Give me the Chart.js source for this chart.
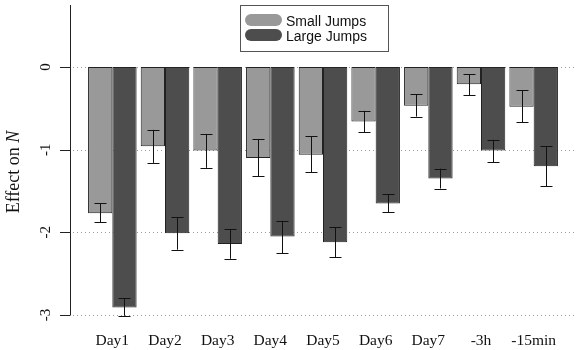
<!DOCTYPE html>
<html>
<head>
<meta charset="utf-8">
<script src="https://cdn.jsdelivr.net/npm/chart.js@4"></script>
<style>
  html, body { margin: 0; padding: 0; background: #ffffff; }
  #wrap { width: 580px; height: 350px; }
</style>
</head>
<body>
<div id="wrap"><canvas id="c" width="580" height="350"></canvas></div>
<script>
// ---- data ----
const categories = ['Day1', 'Day2', 'Day3', 'Day4', 'Day5', 'Day6', 'Day7', '-3h', '-15min'];
const smallJumps = [-1.77, -0.96, -1.01, -1.10, -1.06, -0.66, -0.47, -0.21, -0.48];
const smallLower = [-1.88, -1.16, -1.22, -1.32, -1.27, -0.79, -0.60, -0.34, -0.67];
const smallUpper = [-1.65, -0.76, -0.81, -0.87, -0.84, -0.53, -0.33, -0.09, -0.28];
const largeJumps = [-2.91, -2.01, -2.14, -2.05, -2.12, -1.65, -1.35, -1.01, -1.20];
const largeLower = [-3.01, -2.21, -2.32, -2.25, -2.30, -1.76, -1.47, -1.15, -1.44];
const largeUpper = [-2.80, -1.82, -1.96, -1.86, -1.94, -1.54, -1.23, -0.88, -0.96];
const yTicks = [0, -1, -2, -3];
const seriesNames = ['Small Jumps', 'Large Jumps'];
const yTitle = 'Effect on ';
const yTitleItalic = 'N';

const SERIF = '"Liberation Serif", "DejaVu Serif", serif';
const SANS = '"Liberation Sans", Arial, sans-serif';
const COL_SMALL = '#999999';
const COL_LARGE = '#4d4d4d';

const errorBarPlugin = {
  id: 'errorBars',
  afterDatasetsDraw(chart) {
    const ctx = chart.ctx;
    const y = chart.scales.y;
    ctx.save();
    ctx.strokeStyle = '#111';
    ctx.lineWidth = 1;
    chart.data.datasets.forEach((ds, di) => {
      const meta = chart.getDatasetMeta(di);
      meta.data.forEach((bar, i) => {
        const x = Math.round(bar.x) + 0.5;
        const y1 = y.getPixelForValue(ds.errLow[i]);
        const y2 = y.getPixelForValue(ds.errHigh[i]);
        ctx.beginPath();
        ctx.moveTo(x, y1); ctx.lineTo(x, y2);
        ctx.moveTo(x - 6, Math.round(y1) + 0.5); ctx.lineTo(x + 6, Math.round(y1) + 0.5);
        ctx.moveTo(x - 6, Math.round(y2) + 0.5); ctx.lineTo(x + 6, Math.round(y2) + 0.5);
        ctx.stroke();
      });
    });
    ctx.restore();
  }
};

const axisPlugin = {
  id: 'rAxis',
  beforeDatasetsDraw(chart) {
    const ctx = chart.ctx;
    const y = chart.scales.y;
    ctx.save();
    // dotted gridlines
    ctx.strokeStyle = '#9a9a9a';
    ctx.lineWidth = 1;
    ctx.setLineDash([1, 3]);
    yTicks.forEach(v => {
      const py = Math.round(y.getPixelForValue(v)) + 0.5;
      ctx.beginPath();
      ctx.moveTo(73, py); ctx.lineTo(576, py);
      ctx.stroke();
    });
    ctx.setLineDash([]);
    // axis line
    const top = y.getPixelForValue(y.max);
    const bot = y.getPixelForValue(y.min);
    ctx.strokeStyle = '#222';
    ctx.beginPath();
    ctx.moveTo(70.5, top); ctx.lineTo(70.5, bot);
    ctx.stroke();
    // ticks + rotated labels
    ctx.fillStyle = '#111';
    ctx.font = '15px ' + SERIF;
    ctx.textAlign = 'center';
    ctx.textBaseline = 'alphabetic';
    yTicks.forEach(v => {
      const py = y.getPixelForValue(v);
      const ry = Math.round(py) + 0.5;
      ctx.beginPath();
      ctx.moveTo(60, ry); ctx.lineTo(70.5, ry);
      ctx.stroke();
      ctx.save();
      ctx.translate(49.5, py);
      ctx.rotate(-Math.PI / 2);
      ctx.fillText(String(v), 0, 0);
      ctx.restore();
    });
    // y title
    ctx.save();
    ctx.translate(19, 172);
    ctx.rotate(-Math.PI / 2);
    ctx.textAlign = 'left';
    ctx.font = '18px ' + SERIF;
    const w1 = ctx.measureText(yTitle).width;
    ctx.font = 'italic 18px ' + SERIF;
    const w2 = ctx.measureText(yTitleItalic).width;
    const start = -(w1 + w2) / 2;
    ctx.font = '18px ' + SERIF;
    ctx.fillText(yTitle, start, 0);
    ctx.font = 'italic 18px ' + SERIF;
    ctx.fillText(yTitleItalic, start + w1, 0);
    ctx.restore();
    ctx.restore();
  },
  afterDraw(chart) {
    // legend box
    const ctx = chart.ctx;
    ctx.save();
    ctx.strokeStyle = '#555';
    ctx.lineWidth = 1;
    ctx.strokeRect(240.5, 5.5, 148, 46);
    const rows = [14, 29];
    chart.data.datasets.forEach((ds, i) => {
      const top = rows[i];
      ctx.fillStyle = ds.backgroundColor;
      ctx.beginPath();
      ctx.roundRect(245, top, 37, 12, 6);
      ctx.fill();
      ctx.fillStyle = '#111';
      ctx.font = '14px ' + SANS;
      ctx.textAlign = 'left';
      ctx.textBaseline = 'alphabetic';
      ctx.fillText(ds.label, 286, top + 12);
    });
    ctx.restore();
  }
};

new Chart(document.getElementById('c'), {
  type: 'bar',
  data: {
    labels: categories,
    datasets: [
      { label: seriesNames[0], data: smallJumps, errLow: smallLower, errHigh: smallUpper,
        backgroundColor: COL_SMALL, borderColor: '#222', borderWidth: 1, borderSkipped: false },
      { label: seriesNames[1], data: largeJumps, errLow: largeLower, errHigh: largeUpper,
        backgroundColor: COL_LARGE, borderColor: '#222', borderWidth: 1, borderSkipped: false }
    ]
  },
  options: {
    responsive: false,
    animation: false,
    devicePixelRatio: 1,
    layout: { padding: { left: 86, right: 20, top: 5, bottom: 0 } },
    datasets: { bar: { barPercentage: 1, categoryPercentage: 0.922 } },
    plugins: { legend: { display: false }, tooltip: { enabled: false } },
    scales: {
      x: {
        grid: { display: false, drawTicks: false },
        border: { display: false },
        ticks: { color: '#111', font: { family: SERIF, size: 15.5 }, padding: 17, maxRotation: 0 },
        afterFit(scale) { scale.height = 35; }
      },
      y: {
        display: false,
        min: -3,
        max: 0.75
      }
    }
  },
  plugins: [axisPlugin, errorBarPlugin]
});
</script>
</body>
</html>
